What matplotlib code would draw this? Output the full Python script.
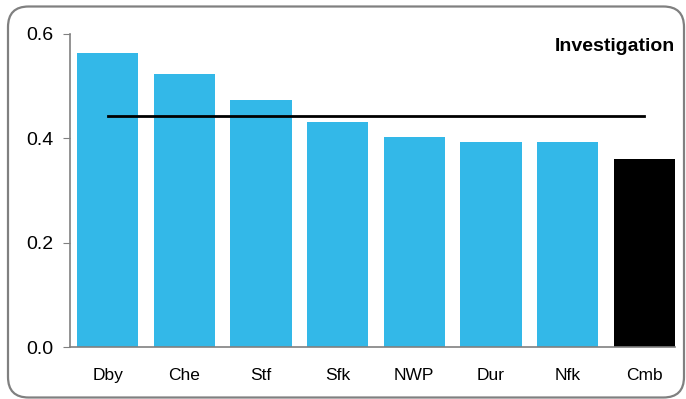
import matplotlib.pyplot as plt
from matplotlib.patches import FancyBboxPatch
import numpy as np

plt.rcParams['font.family'] = ['Liberation Sans', 'DejaVu Sans']

# data
areas = ['Dby', 'Che', 'Stf', 'Sfk', 'NWP', 'Dur', 'Nfk', 'Cmb']
values = [0.564, 0.523, 0.473, 0.431, 0.402, 0.393, 0.393, 0.360]
average = 0.443
yticks = [0.0, 0.2, 0.4, 0.6]

blue = '#33b8e8'
colors = [blue] * (len(areas) - 1) + ['#000000']

fig = plt.figure(figsize=(6.86, 3.99), dpi=100)
ax = fig.add_axes([70/686, 1 - 347/399, 605/686, 313/399])

x = np.arange(len(areas))
ax.bar(x, values, width=0.8, color=colors, zorder=2)
ax.plot([x[0], x[-1]], [average, average], color='black', lw=2, zorder=3)

ax.set_xlim(-0.49, len(areas) - 1 + 0.4)
ax.set_ylim(0, 0.6)
ax.set_yticks(yticks)
ax.set_yticklabels(['%.1f' % v for v in yticks], fontsize=14)
ax.set_xticks(x)
ax.set_xticklabels(areas, fontsize=12.5)
ax.tick_params(axis='x', length=0, pad=15)
ax.tick_params(axis='y', length=5, color='#808080', direction='out', pad=7)

for s in ['top', 'right']:
    ax.spines[s].set_visible(False)
for s in ['left', 'bottom']:
    ax.spines[s].set_color('#808080')
    ax.spines[s].set_linewidth(1.2)

ax.text(1.0, 0.96, 'Investigation', transform=ax.transAxes, ha='right', va='center',
        fontsize=14, fontweight='bold')

# rounded frame
frame = FancyBboxPatch((8/686, 1.5/399), 676/686, 391/399,
                       boxstyle='round,pad=0,rounding_size=0.03',
                       transform=fig.transFigure, fill=False,
                       edgecolor='#808080', lw=1.6, mutation_aspect=686/399)
fig.patches.append(frame)

fig.savefig('out.png', dpi=100)
